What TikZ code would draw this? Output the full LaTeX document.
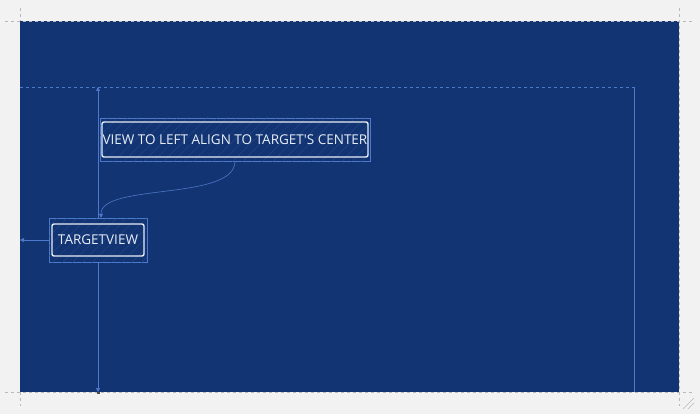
\documentclass[tikz,border=0pt]{standalone}
\usepackage{fontspec}
\newfontfamily\viewfont{Open Sans}
\usetikzlibrary{positioning,fit,arrows.meta,patterns.meta}
\definecolor{canvas}{HTML}{F2F2F2}
\definecolor{board}{HTML}{133472}
\definecolor{guide}{HTML}{4C79C9}
\definecolor{label}{HTML}{E8EEF8}
\definecolor{tick}{HTML}{B9B9B9}

\begin{document}
\begin{tikzpicture}[x=1pt,y=-1pt,>={Triangle[length=4pt,width=4pt]},
    view/.style={draw=label,line width=1.4pt,rounded corners=2pt,text=label,
      font=\viewfont\fontsize{13.5}{15}\selectfont,inner xsep=0pt,inner ysep=0pt},
    frame/.style={draw=guide,line width=0.5pt,fill=board,inner xsep=2pt,inner ysep=4pt,
      postaction={pattern={Lines[angle=45,distance=7pt,line width=0.3pt]},pattern color=guide!35!board}},
    link/.style={draw=guide,line width=0.6pt,->}]
  % canvas and board
  \fill[canvas] (0,0) rectangle (700,414);
  \useasboundingbox (0,0) rectangle (700,414);
  \fill[board] (20,21) rectangle (679,392);
  \draw[tick,dashed,line width=0.4pt] (5,21) -- (694,21) (5,392) -- (694,392)
    (20,8) -- (20,21) (679,8) -- (679,406) (20,392) -- (20,406);
  \draw[tick,line width=0.5pt] (683,409) -- (694,398) (688,409) -- (694,403);
  % safe area
  \draw[guide,dashed,line width=0.5pt] (20,87) -- (634,87);
  \draw[guide,line width=0.5pt] (634,87) -- (634,392);
  % guides
  \coordinate (guidetop) at (98,87);
  \coordinate (guidebottom) at (98,392);
  \coordinate (leftedge) at (20,240);
  \draw[link,<->] (guidetop) -- (guidebottom);
  \fill[black!70] ([xshift=-1.5pt]guidebottom) rectangle ([xshift=1.5pt,yshift=-2pt]guidebottom);
  % views
  \node[frame,minimum width=270pt,minimum height=43pt] (alignframe) at (235,139.5) {};
  \node[view,minimum width=266pt,minimum height=35pt] (align) at (alignframe)
    {VIEW TO LEFT ALIGN TO TARGET'S CENTER};
  \node[frame,minimum width=98pt,minimum height=44pt] (targetframe) at (98,240) {};
  \node[view,minimum width=92pt,minimum height=32pt] (target) at (targetframe) {TARGETVIEW};
  \draw[link] (targetframe.west) -- (leftedge);
  \draw[link] (alignframe.south) .. controls ++(0,40) and ++(0,-35) .. ([xshift=3pt]targetframe.north);
\end{tikzpicture}
\end{document}
